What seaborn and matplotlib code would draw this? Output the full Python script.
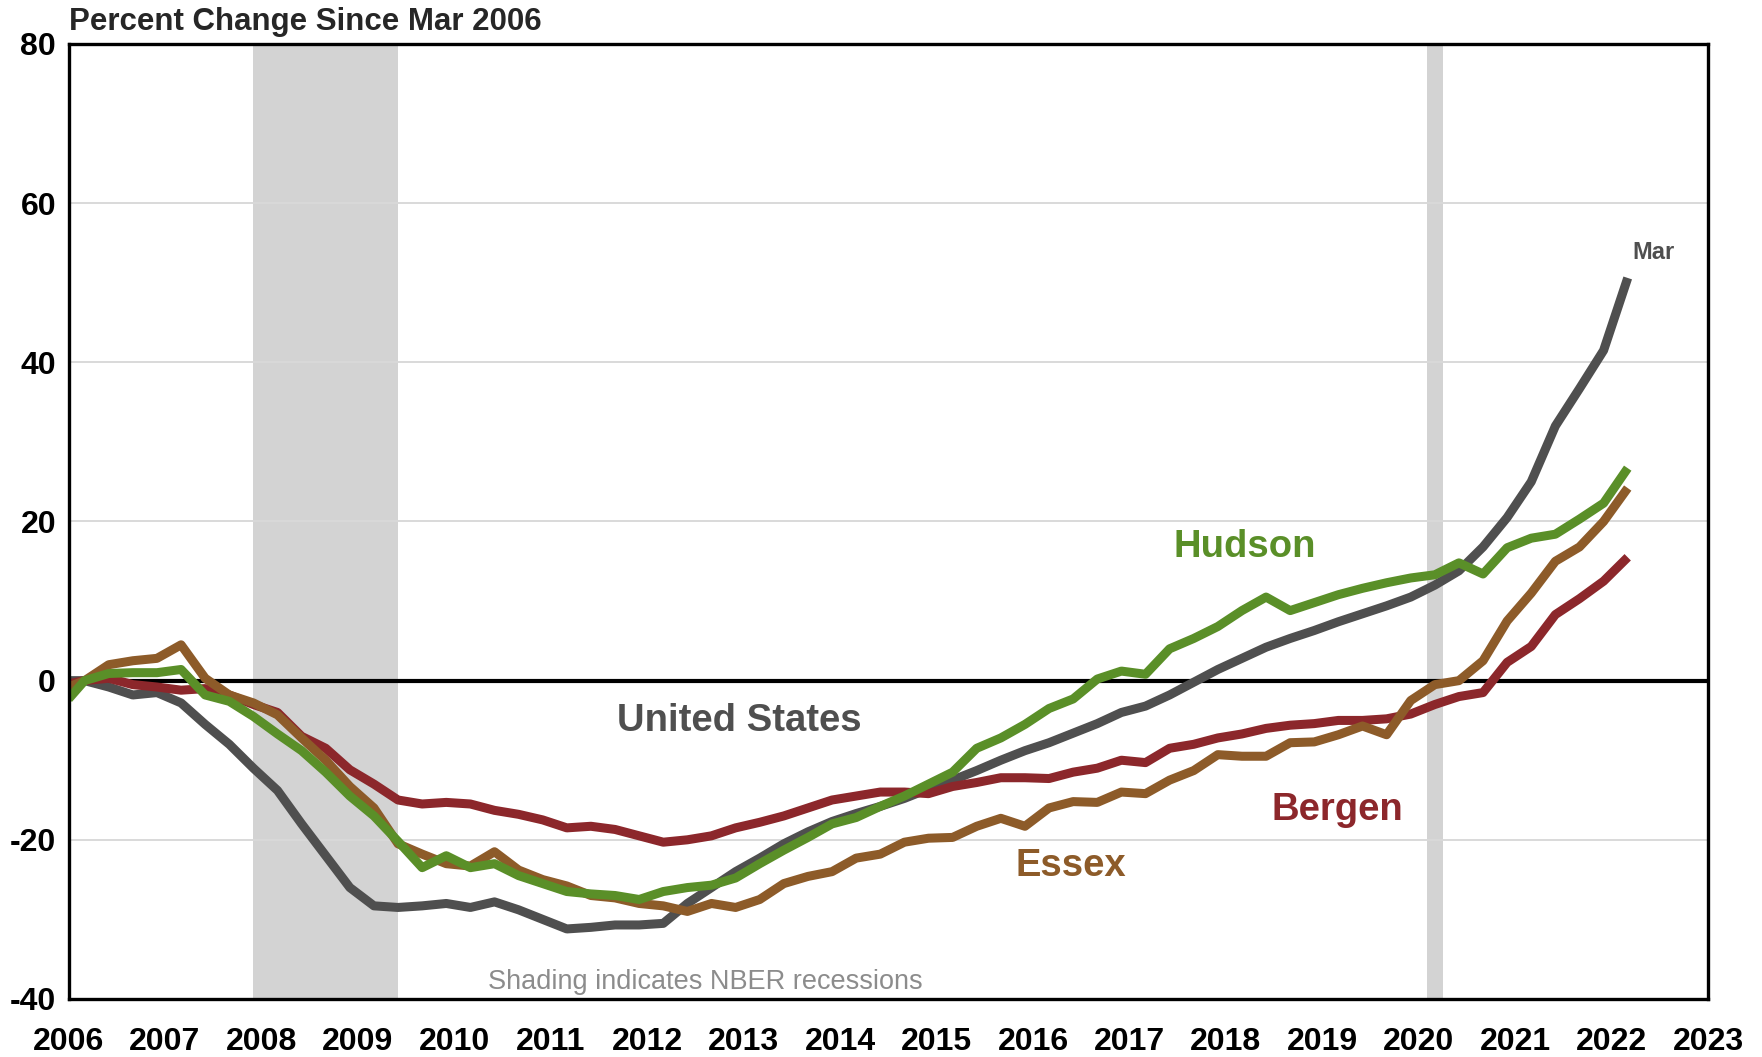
import numpy as np
import pandas as pd
import matplotlib
matplotlib.use("Agg")
import matplotlib.pyplot as plt
from matplotlib import font_manager
import seaborn as sns

# ===============================
# Data: percent change since Mar 2006 (Jan 2006, then quarterly Mar 2006 .. Mar 2022)
# ===============================
dates = pd.to_datetime(["2006-01-01"]).append(
    pd.date_range("2006-03-01", "2022-03-01", freq="3MS"))

us = [0.0, 0.0, -0.8, -1.8, -1.5, -2.8, -5.5, -8.0, -11.0, -13.8, -18.0, -22.0, -26.0,
      -28.3, -28.5, -28.3, -28.0, -28.5, -27.8, -28.8, -30.0, -31.2, -31.0, -30.7, -30.7,
      -30.5, -28.0, -26.0, -24.0, -22.3, -20.5, -19.0, -17.7, -16.7, -15.8, -14.8, -13.6,
      -12.5, -11.3, -10.0, -8.8, -7.8, -6.6, -5.4, -4.0, -3.2, -1.8, -0.2, 1.4, 2.8, 4.2,
      5.3, 6.3, 7.4, 8.4, 9.4, 10.5, 12.0, 13.8, 16.8, 20.5, 25.0, 32.0, 36.7, 41.5, 50.6]
hudson = [-2.3, 0.0, 0.9, 1.0, 1.0, 1.4, -1.8, -2.6, -4.5, -6.7, -8.8, -11.5, -14.5, -17.0,
          -20.2, -23.5, -22.0, -23.5, -23.0, -24.5, -25.5, -26.5, -26.8, -27.0, -27.5,
          -26.5, -26.0, -25.7, -24.8, -23.0, -21.3, -19.7, -18.0, -17.2, -15.8, -14.5,
          -13.0, -11.5, -8.5, -7.2, -5.5, -3.5, -2.3, 0.2, 1.2, 0.8, 4.0, 5.3, 6.8, 8.8,
          10.5, 8.8, 9.8, 10.8, 11.6, 12.3, 12.9, 13.3, 14.8, 13.4, 16.7, 17.9, 18.4, 20.3,
          22.3, 26.7]
essex = [-0.8, 0.0, 2.0, 2.5, 2.8, 4.5, 0.3, -1.8, -2.8, -4.3, -7.2, -10.0, -13.3, -16.0,
         -20.5, -21.8, -23.0, -23.3, -21.5, -23.8, -25.0, -25.8, -27.0, -27.3, -28.0, -28.3,
         -29.0, -28.0, -28.5, -27.5, -25.5, -24.6, -24.0, -22.3, -21.8, -20.3, -19.8, -19.7,
         -18.3, -17.3, -18.3, -16.0, -15.2, -15.3, -14.0, -14.2, -12.5, -11.3, -9.3, -9.5,
         -9.5, -7.8, -7.7, -6.8, -5.7, -6.8, -2.5, -0.5, 0.0, 2.5, 7.5, 11.0, 15.0, 16.8,
         20.0, 24.2]
bergen = [-0.4, 0.0, 0.3, -0.5, -0.8, -1.2, -1.0, -1.8, -3.0, -4.0, -7.0, -8.5, -11.2, -13.0,
          -15.0, -15.5, -15.3, -15.5, -16.3, -16.8, -17.5, -18.5, -18.3, -18.7, -19.5, -20.3,
          -20.0, -19.5, -18.5, -17.8, -17.0, -16.0, -15.0, -14.5, -14.0, -14.0, -14.2, -13.3,
          -12.8, -12.2, -12.2, -12.3, -11.5, -11.0, -10.0, -10.3, -8.5, -8.0, -7.2, -6.7,
          -6.0, -5.6, -5.4, -5.0, -5.0, -4.8, -4.2, -3.0, -2.0, -1.5, 2.3, 4.3, 8.3, 10.3,
          12.5, 15.5]

regions = ["United States", "Bergen", "Essex", "Hudson"]
colors = ["#4f4f4f", "#8c272b", "#8d5b29", "#5a8f28"]
recessions = [("2007-12-01", "2009-06-01"), ("2020-02-01", "2020-04-01")]
year_ticks = list(range(2006, 2024))
pct_ticks = list(range(-40, 81, 20))


def dec_year(d):
    d = pd.to_datetime(d)
    return d.year + (d.month - 1) / 12


df = pd.DataFrame({
    "year": np.tile(dec_year(dates), 4),
    "pct": np.concatenate([us, bergen, essex, hudson]),
    "region": np.repeat(regions, len(dates)),
})

# ===============================
# Style / fonts
# ===============================
sns.set_style("white")
plt.rcParams["font.family"] = ["Liberation Sans", "DejaVu Sans"]
plt.rcParams["axes.unicode_minus"] = False
names = {f.name for f in font_manager.fontManager.ttflist}
if "Liberation Sans Narrow" in names:
    tick_font, tick_size = "Liberation Sans Narrow", 26
else:
    tick_font, tick_size = "Liberation Sans", 23

fig = plt.figure(figsize=(17.62, 10.57), dpi=100)
ax = fig.add_axes([0.0389, 0.0549, 0.9305, 0.9035])

for start, end in recessions:
    ax.axvspan(dec_year(start), dec_year(end), color="#d3d3d3", lw=0, zorder=0)

ax.axhline(0, color="black", lw=3.0, zorder=1.5)

sns.lineplot(data=df, x="year", y="pct", hue="region", hue_order=regions,
             palette=colors, linewidth=6.5, legend=False, estimator=None,
             sort=False, ax=ax, zorder=2)
for ln in ax.lines:
    ln.set_solid_capstyle("butt")

ax.set_xlim(2006, 2023)
ax.set_ylim(-40, 80)
ax.set_xticks(year_ticks)
ax.set_yticks(pct_ticks)
ax.set_xlabel("")
ax.set_ylabel("")
ax.set_axisbelow(True)
ax.yaxis.grid(True, color="#d9d9d9", lw=1.4)
ax.xaxis.grid(False)

for sp in ax.spines.values():
    sp.set_visible(True)
    sp.set_color("black")
    sp.set_linewidth(2.4)

ax.tick_params(axis="x", direction="out", length=9, width=2, pad=11, colors="black")
ax.tick_params(axis="y", direction="out", length=5, width=2, pad=4, colors="black")
for lbl in ax.get_xticklabels() + ax.get_yticklabels():
    lbl.set_fontfamily(tick_font)
    lbl.set_fontweight("bold")
    lbl.set_fontsize(tick_size)

# series labels
ax.text(2018.2, 16.8, "Hudson", color=colors[3], fontsize=27.5, fontweight="bold",
        ha="center", va="center")
ax.text(2012.95, -5.1, "United States", color=colors[0], fontsize=27.5, fontweight="bold",
        ha="center", va="center")
ax.text(2019.16, -16.2, "Bergen", color=colors[1], fontsize=27.5, fontweight="bold",
        ha="center", va="center")
ax.text(2016.39, -23.3, "Essex", color=colors[2], fontsize=27.5, fontweight="bold",
        ha="center", va="center")
ax.text(2022.43, 53.8, "Mar", color=colors[0], fontsize=17, fontweight="bold",
        ha="center", va="center")
ax.text(2012.6, -37.9, "Shading indicates NBER recessions", color="#8c8c8c",
        fontsize=19.5, ha="center", va="center")

fig.text(0.0389, 0.972, "Percent Change Since Mar 2006", fontsize=22.5,
         fontweight="bold", ha="left", va="baseline")

fig.savefig("out.png", dpi=100)
plt.close(fig)
